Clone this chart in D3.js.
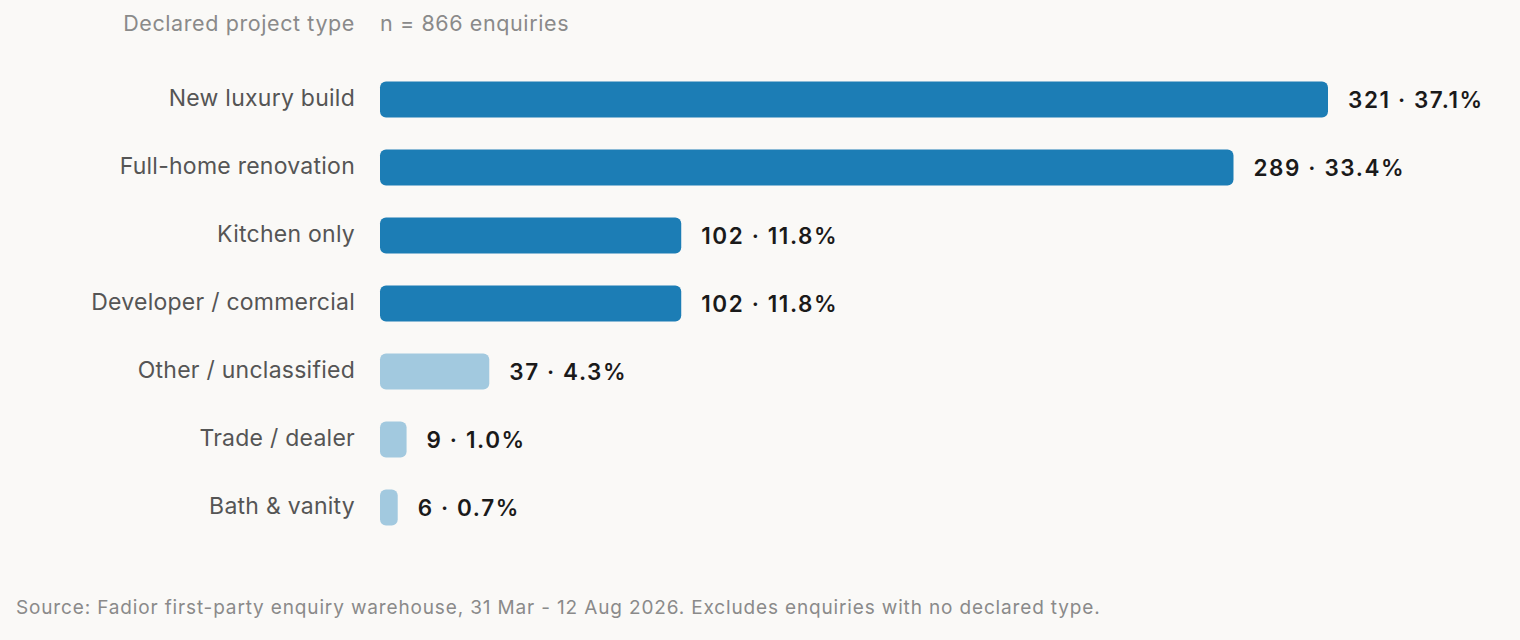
<!DOCTYPE html>
<html lang="en">
<head>
	<meta charset="UTF-8">
	<title>Declared project type</title>
	<script src="https://cdn.jsdelivr.net/npm/d3@7"></script>
	<style type="text/css">
		html, body { margin: 0; padding: 0; background: #faf9f7; }
		svg { display: block; font-family: Inter, "Noto Sans", sans-serif; }
		.cat { fill: #555; font-size: 23px; letter-spacing: 0.25px; }
		.val { fill: #1a1a1a; font-size: 22.5px; font-weight: 600; letter-spacing: 1.6px; }
		.head { fill: #8a8a8a; font-size: 21.5px; letter-spacing: 0.6px; }
		.foot { fill: #8a8a8a; font-size: 19px; letter-spacing: 0.85px; }
	</style>
</head>
<body>
<script type="text/javascript">

	// data
	var categories = ['New luxury build', 'Full-home renovation', 'Kitchen only', 'Developer / commercial',
		'Other / unclassified', 'Trade / dealer', 'Bath & vanity'];
	var counts = [321, 289, 102, 102, 37, 9, 6];
	var shares = [37.1, 33.4, 11.8, 11.8, 4.3, 1.0, 0.7];
	var major = [true, true, true, true, false, false, false];
	var total = 866;

	var W = 1520, H = 640;
	var left = 380;

	var svg = d3.select('body').append('svg')
		.attr('width', W)
		.attr('height', H);

	var x = d3.scaleLinear()
		.domain([0, d3.max(counts)])
		.range([0, 948]);

	var y = d3.scaleBand()
		.domain(categories)
		.range([65.5, 541.5])
		.paddingInner(0.47)
		.paddingOuter(0.235);

	var rows = categories.map(function (c, i) {
		return {cat: c, n: counts[i], pct: shares[i], major: major[i]};
	});

	//header
	svg.append('text').attr('class', 'head')
		.attr('x', 355).attr('y', 31)
		.style('text-anchor', 'end')
		.text('Declared project type');
	svg.append('text').attr('class', 'head')
		.attr('x', left).attr('y', 31)
		.text('n = ' + total + ' enquiries');

	//bars
	var g = svg.append('g').attr('transform', 'translate(' + left + ',0)');

	g.selectAll('.bar')
		.data(rows)
		.enter().append('rect')
		.attr('class', 'bar')
		.attr('x', 0)
		.attr('y', function (d) { return y(d.cat); })
		.attr('width', function (d) { return x(d.n); })
		.attr('height', y.bandwidth())
		.attr('rx', 6)
		.style('fill', function (d) { return d.major ? '#1c7db5' : '#a2c9df'; });

	g.selectAll('.val')
		.data(rows)
		.enter().append('text')
		.attr('class', 'val')
		.attr('x', function (d) { return x(d.n) + 20; })
		.attr('y', function (d) { return y(d.cat) + y.bandwidth() / 2; })
		.attr('dy', '0.36em')
		.text(function (d) { return d.n + ' \u00b7 ' + d.pct.toFixed(1) + '%'; });

	//category labels
	svg.selectAll('.cat')
		.data(rows)
		.enter().append('text')
		.attr('class', 'cat')
		.attr('x', 355)
		.attr('y', function (d) { return y(d.cat) + y.bandwidth() / 2; })
		.attr('dy', '0.27em')
		.style('text-anchor', 'end')
		.text(function (d) { return d.cat; });

	//source
	svg.append('text').attr('class', 'foot')
		.attr('x', 16).attr('y', 614)
		.text('Source: Fadior first-party enquiry warehouse, 31 Mar - 12 Aug 2026. Excludes enquiries with no declared type.');

</script>
</body>
</html>
